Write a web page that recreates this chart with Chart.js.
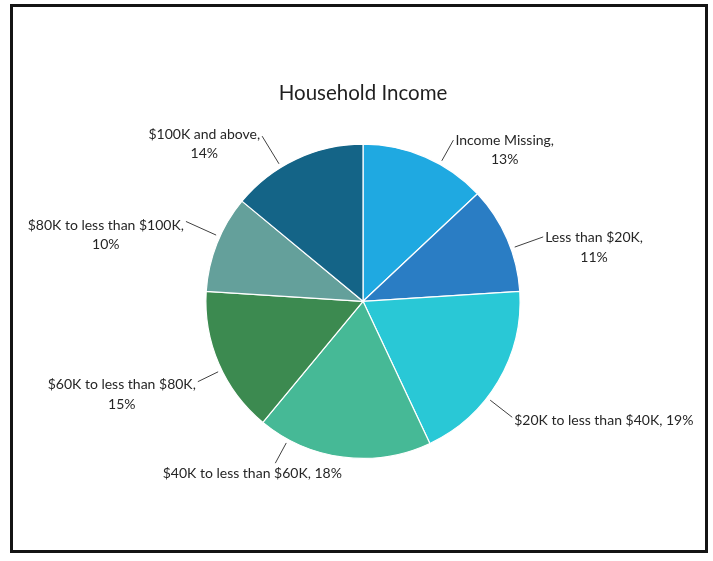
<!DOCTYPE html>
<html>
<head>
<meta charset="utf-8">
<title>Household Income</title>
<script src="https://cdn.jsdelivr.net/npm/chart.js@4.4.0/dist/chart.umd.min.js"></script>
<style>
  html, body { margin: 0; padding: 0; background: #fff; }
  #wrap { position: relative; width: 713px; height: 561px; }
  #frame { position: absolute; left: 10px; top: 4px; width: 692px; height: 543px; border: 3px solid #141414; pointer-events: none; }
  canvas { position: absolute; left: 0; top: 0; }
</style>
</head>
<body>
<div id="wrap">
  <canvas id="incomeChart" width="713" height="561"></canvas>
  <div id="frame"></div>
</div>
<script>
// Slices run clockwise from 12 o'clock
const categories = [
  "Income Missing",
  "Less than $20K",
  "$20K to less than $40K",
  "$40K to less than $60K",
  "$60K to less than $80K",
  "$80K to less than $100K",
  "$100K and above"
];
const shares = [13, 11, 19, 18, 15, 10, 14];
const sliceColors = ["#1fa9e1", "#2a7dc4", "#29c8d6", "#46b996", "#3c8a50", "#64a09b", "#146487"];

// Where each data label sits: leader end offset from the slice's mid rim point,
// which side the text hangs on, and how many lines it takes
const labelPlacement = [
  { dx: 28, dy: -17, side: "left", ty: 0, lines: 2 },
  { dx: 36, dy: -2, side: "left", ty: 1, lines: 2 },
  { dx: 14, dy: 36, side: "left", ty: 3, lines: 1 },
  { dx: -68, dy: 6, side: "below", bx: -23, ty: 10, lines: 1 },
  { dx: -21, dy: 18, side: "right", ty: 3, lines: 2 },
  { dx: -31, dy: -22, side: "right", ty: 4, lines: 2 },
  { dx: -34, dy: -23, side: "right", ty: -2, lines: 2 }
];

const pieLabels = {
  id: "pieLabels",
  afterDatasetsDraw(chart) {
    const ctx = chart.ctx;
    const arcs = chart.getDatasetMeta(0).data;
    const lineGap = 19.5;
    ctx.save();
    ctx.font = "14px Lato";
    ctx.fillStyle = "#262626";
    ctx.strokeStyle = "#404040";
    ctx.lineWidth = 1;
    ctx.textBaseline = "middle";

    arcs.forEach((arc, i) => {
      const p = arc.getProps(["x", "y", "startAngle", "endAngle", "outerRadius"], true);
      const place = labelPlacement[i];
      const mid = (p.startAngle + p.endAngle) / 2;
      const endX = p.x + Math.cos(mid) * p.outerRadius + place.dx;
      const endY = p.y + Math.sin(mid) * p.outerRadius + place.dy;

      // leader starts on the rim facing the label, kept inside the slice
      let a = Math.atan2(endY - p.y, endX - p.x);
      while (a < p.startAngle) a += Math.PI * 2;
      while (a > p.startAngle + Math.PI * 2) a -= Math.PI * 2;
      if (a > p.endAngle) {
        a = (a - p.endAngle) < (p.startAngle + Math.PI * 2 - a) ? p.endAngle : p.startAngle;
      }
      const r0 = p.outerRadius + 4;
      ctx.beginPath();
      ctx.moveTo(p.x + Math.cos(a) * r0, p.y + Math.sin(a) * r0);
      ctx.lineTo(endX, endY);
      ctx.stroke();

      const lines = place.lines === 2
        ? [categories[i] + ",", shares[i] + "%"]
        : [categories[i] + ", " + shares[i] + "%"];
      const w = ctx.measureText(lines[0]).width;
      let cx;
      if (place.side === "left") cx = endX + 2 + w / 2;
      else if (place.side === "right") cx = endX - 2 - w / 2;
      else cx = endX + place.bx;
      ctx.textAlign = "center";
      lines.forEach((t, k) => ctx.fillText(t, cx, endY + place.ty + k * lineGap));
    });
    ctx.restore();
  }
};

new Chart(document.getElementById("incomeChart").getContext("2d"), {
  type: "pie",
  data: {
    labels: categories,
    datasets: [{
      data: shares,
      backgroundColor: sliceColors,
      borderColor: "#ffffff",
      borderWidth: 1.2
    }]
  },
  options: {
    responsive: false,
    animation: false,
    layout: { padding: { top: 0, left: 205, right: 192, bottom: 102 } },
    plugins: {
      legend: { display: false },
      tooltip: { enabled: false },
      title: {
        display: true,
        text: "Household Income",
        color: "#1f1f1f",
        font: { family: "Lato", size: 20.5, weight: "normal" },
        padding: { top: 81, bottom: 38 }
      }
    }
  },
  plugins: [pieLabels]
});
</script>
</body>
</html>
